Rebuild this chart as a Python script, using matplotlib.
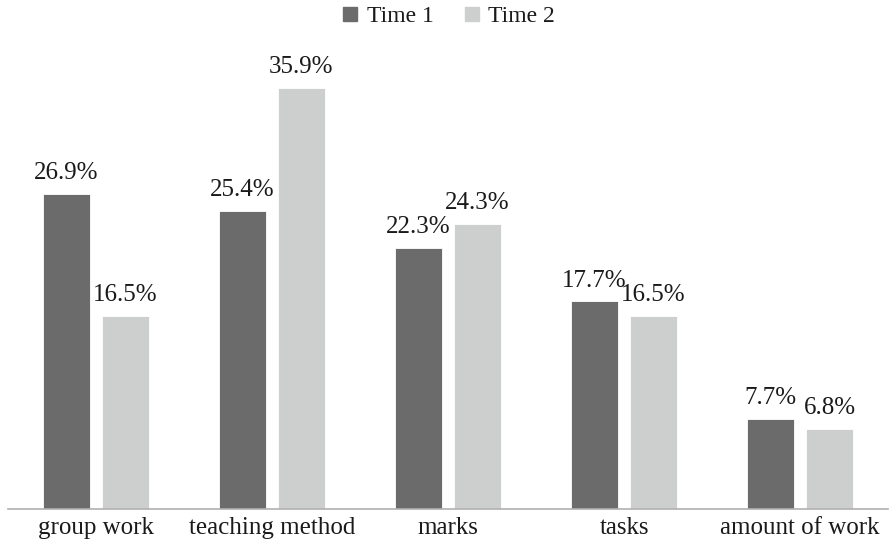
import matplotlib
matplotlib.use("Agg")
import matplotlib.pyplot as plt
import numpy as np
from matplotlib.lines import Line2D

categories = ["group work", "teaching method", "marks", "tasks", "amount of work"]
time1 = [26.9, 25.4, 22.3, 17.7, 7.7]
time2 = [16.5, 35.9, 24.3, 16.5, 6.8]
series_names = ["Time 1", "Time 2"]
colors = ["#6b6b6b", "#cdcfce"]
text_color = "#1a1a1a"

plt.rcParams["font.family"] = ["Liberation Serif", "DejaVu Serif"]

fig = plt.figure(figsize=(8.89, 5.44), dpi=100)
ax = fig.add_axes([8 / 889, 35 / 544, 880 / 889, 469 / 544])

x = np.arange(len(categories))
width = 0.267
offset = (width + 0.068) / 2

for vals, sign, col in [(time1, -1, colors[0]), (time2, 1, colors[1])]:
    bars = ax.bar(x + sign * offset, vals, width, color=col, edgecolor="white", linewidth=0.6)
    for b, v in zip(bars, vals):
        ax.text(b.get_x() + b.get_width() / 2, v + 0.85, f"{v:.1f}%",
                ha="center", va="bottom", fontsize=18, color=text_color)

ax.set_xlim(-0.5, len(categories) - 0.5)
ax.set_ylim(0, 40)
ax.set_xticks(x)
ax.set_xticklabels(categories, fontsize=18, color=text_color)
ax.tick_params(axis="x", length=0, pad=6)
ax.set_yticks([])
for s in ["top", "right", "left"]:
    ax.spines[s].set_visible(False)
ax.spines["bottom"].set_color("#b0b0b0")
ax.spines["bottom"].set_linewidth(1.2)

handles = [Line2D([], [], marker="s", linestyle="none", markersize=10,
                  markerfacecolor=c, markeredgecolor=c) for c in colors]
fig.legend(handles, series_names, loc="center", bbox_to_anchor=(448 / 889, 1 - 16 / 544),
           ncol=2, frameon=False, fontsize=17, handletextpad=0.3, columnspacing=1.2,
           handlelength=0.8, labelcolor=text_color)

fig.savefig("out.png", dpi=100)
